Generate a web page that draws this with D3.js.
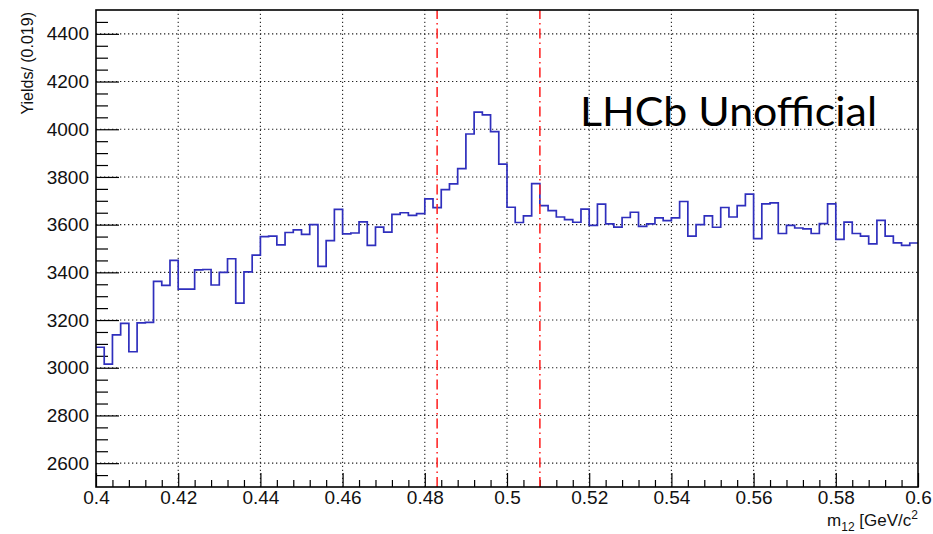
<!DOCTYPE html>
<html>
<head>
<meta charset="utf-8">
<script src="https://cdn.jsdelivr.net/npm/d3@7"></script>
<style>
  html, body { margin: 0; padding: 0; background: #fff; }
  svg { display: block; }
</style>
</head>
<body>
<svg id="chart" width="933" height="534"></svg>
<script>
// ---- data ----
const xDomain = [0.4, 0.6];
const yDomain = [2500, 4500];
const binLow = 0.4;
const binWidth = 0.002;
const counts = [
  3086, 3015, 3138, 3186, 3067, 3188, 3190, 3362, 3345, 3450,
  3330, 3330, 3410, 3412, 3347, 3400, 3457, 3271, 3402, 3472,
  3550, 3552, 3515, 3567, 3578, 3559, 3600, 3425, 3533, 3664,
  3561, 3565, 3612, 3513, 3590, 3569, 3643, 3650, 3639, 3646,
  3708, 3671, 3747, 3771, 3835, 3980, 4072, 4060, 3990, 3854,
  3673, 3609, 3637, 3772, 3680, 3659, 3632, 3621, 3610, 3665,
  3597, 3686, 3603, 3590, 3630, 3652, 3593, 3603, 3628, 3617,
  3628, 3697, 3552, 3600, 3637, 3589, 3672, 3632, 3680, 3728,
  3541, 3687, 3691, 3563, 3597, 3586, 3582, 3563, 3604, 3687,
  3538, 3611, 3563, 3552, 3519, 3618, 3552, 3524, 3513, 3523
];
const xTicks = [0.4, 0.42, 0.44, 0.46, 0.48, 0.5, 0.52, 0.54, 0.56, 0.58, 0.6];
const xTickLabels = ["0.4", "0.42", "0.44", "0.46", "0.48", "0.5", "0.52", "0.54", "0.56", "0.58", "0.6"];
const yTicks = [2600, 2800, 3000, 3200, 3400, 3600, 3800, 4000, 4200, 4400];
const markerLines = [0.483, 0.508];
const yTitle = "Yields/ (0.019)";
const watermark = "LHCb Unofficial";

// ---- layout ----
const L = 96, R = 918, T = 10, B = 487;
const svg = d3.select("#chart");
svg.append("rect").attr("width", 933).attr("height", 534).attr("fill", "#fff");

const x = d3.scaleLinear().domain(xDomain).range([L, R]);
const y = d3.scaleLinear().domain(yDomain).range([B, T]);

// grid
const grid = svg.append("g").attr("stroke", "#222").attr("stroke-width", 1.1)
  .attr("stroke-dasharray", "1.3,2.7");
xTicks.filter(v => v > xDomain[0] + 1e-9 && v < xDomain[1] - 1e-9).forEach(v => {
  grid.append("line").attr("x1", x(v)).attr("x2", x(v)).attr("y1", B).attr("y2", T);
});
yTicks.forEach(v => {
  grid.append("line").attr("x1", L).attr("x2", R).attr("y1", y(v)).attr("y2", y(v));
});

// minor ticks
const yMinor = d3.range(yDomain[0], yDomain[1] + 1, 50).filter(v => !yTicks.includes(v) && v > yDomain[0] && v < yDomain[1]);
const xMinor = d3.range(0, 51).map(i => xDomain[0] + i * 0.004).filter(v => !xTicks.some(t => Math.abs(t - v) < 1e-9) && v < xDomain[1] - 1e-9);

const fontFam = "'Liberation Sans', Arial, Helvetica, sans-serif";

const gyMinor = svg.append("g").attr("transform", `translate(${L},0)`)
  .call(d3.axisLeft(y).tickValues(yMinor).tickSize(-12).tickFormat(""));
const gy = svg.append("g").attr("transform", `translate(${L},0)`)
  .call(d3.axisLeft(y).tickValues(yTicks).tickSize(-23).tickPadding(7).tickFormat(d3.format("d")));
const gxMinor = svg.append("g").attr("transform", `translate(0,${B})`)
  .call(d3.axisBottom(x).tickValues(xMinor).tickSize(-7).tickFormat(""));
const gx = svg.append("g").attr("transform", `translate(0,${B})`)
  .call(d3.axisBottom(x).tickValues(xTicks).tickSize(-14).tickPadding(4)
    .tickFormat((d, i) => xTickLabels[i]));

[gyMinor, gy, gxMinor, gx].forEach(g => {
  g.select(".domain").remove();
  g.selectAll("line").attr("stroke", "#000").attr("stroke-width", 1.2);
  g.selectAll("text").attr("font-family", fontFam).attr("font-size", 19).attr("fill", "#111");
});

// histogram step line
const pts = [];
counts.forEach((c, i) => {
  const x0 = binLow + i * binWidth;
  pts.push([x0, c], [x0 + binWidth, c]);
});
svg.append("path")
  .attr("d", d3.line().x(d => x(d[0])).y(d => y(d[1]))(pts))
  .attr("fill", "none").attr("stroke", "#2f2fbd").attr("stroke-width", 1.7);

// marker lines
markerLines.forEach(v => {
  svg.append("line").attr("x1", x(v)).attr("x2", x(v)).attr("y1", B).attr("y2", T)
    .attr("stroke", "#ff2a2a").attr("stroke-width", 1.6)
    .attr("stroke-dasharray", "10,4,1.5,4");
});

// frame
svg.append("rect").attr("x", L).attr("y", T).attr("width", R - L).attr("height", B - T)
  .attr("fill", "none").attr("stroke", "#000").attr("stroke-width", 1.6);

// watermark
svg.append("text").attr("x", 580).attr("y", 126)
  .attr("font-family", "Lato, 'Open Sans', sans-serif").attr("font-size", 40)
  .attr("textLength", 297).attr("lengthAdjust", "spacingAndGlyphs")
  .attr("fill", "#000").text(watermark);

// y title
svg.append("text")
  .attr("transform", `translate(33,12) rotate(-90)`)
  .attr("text-anchor", "end")
  .attr("font-family", fontFam).attr("font-size", 16).attr("fill", "#111")
  .text(yTitle);

// x title
const xt = svg.append("text").attr("x", 918).attr("y", 526).attr("text-anchor", "end")
  .attr("font-family", fontFam).attr("font-size", 17).attr("fill", "#111");
xt.append("tspan").text("m");
xt.append("tspan").attr("font-size", 12).attr("dy", 5).text("12");
xt.append("tspan").attr("dy", -5).text(" [GeV/c");
xt.append("tspan").attr("font-size", 12).attr("dy", -7).text("2");
</script>
</body>
</html>
